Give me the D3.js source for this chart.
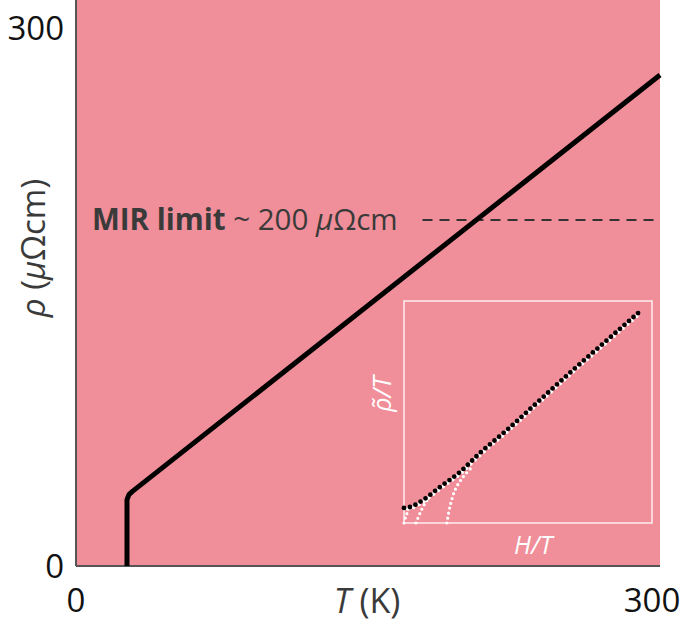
<!DOCTYPE html>
<html>
<head>
<meta charset="utf-8">
<script src="https://cdn.jsdelivr.net/npm/d3@7"></script>
<style>
  body { margin: 0; background: #fff; }
  text { font-family: "Open Sans", "Noto Sans", sans-serif; }
</style>
</head>
<body>
<div id="plot"></div>
<script>
// main resistivity curve (T in K, rho in µΩcm)
let mainT = [26.2, 26.2, 27.2, 29, 300];
let mainRho = [0, 37, 39.8, 41.6, 273.8];

// MIR limit dashed line
let mirT = [178, 297.5];
let mirRho = 193;

let xTicks = [0, 300];
let yTicks = [0, 300];

// inset (arbitrary units 0..1)
let insetH = [0, 0.024, 0.077, 0.145, 0.226, 0.306, 0.415, 0.548, 0.681, 0.819, 0.944];
let insetR = [0.068, 0.072, 0.104, 0.162, 0.230, 0.315, 0.419, 0.554, 0.689, 0.824, 0.946];
let whiteCurves = [
    { h: [0, 0.008, 0.024], r: [0, 0.032, 0.072] },
    { h: [0.048, 0.065, 0.085, 0.105], r: [0, 0.045, 0.09, 0.117] },
    { h: [0.173, 0.185, 0.206, 0.238, 0.274], r: [0, 0.072, 0.149, 0.207, 0.252] }
];

let svgWidth = 683;
let svgHeight = 628;

let margin = { top: 0, right: 23, bottom: 62, left: 76 };
let chartWidth = svgWidth - margin.left - margin.right;
let chartHeight = svgHeight - margin.top - margin.bottom;

let $svg = d3.select('#plot')
    .append('svg')
    .attr('width', svgWidth)
    .attr('height', svgHeight);

let chartGroup = $svg.append('g')
    .attr('transform', `translate(${margin.left}, ${margin.top})`);

let xScale = d3.scaleLinear().domain([0, 300]).range([0, chartWidth]);
let yScale = d3.scaleLinear().domain([0, 300]).range([chartHeight, 28]);

// pink background
chartGroup.append('rect')
    .attr('x', 0)
    .attr('y', 0)
    .attr('width', chartWidth)
    .attr('height', chartHeight)
    .attr('fill', '#f08e99');

// axes lines
chartGroup.append('line')
    .attr('x1', 0).attr('x2', 0)
    .attr('y1', 0).attr('y2', chartHeight)
    .attr('stroke', '#555').attr('stroke-width', 2);
chartGroup.append('line')
    .attr('x1', 0).attr('x2', chartWidth)
    .attr('y1', chartHeight).attr('y2', chartHeight)
    .attr('stroke', '#555').attr('stroke-width', 2);

// tick labels
chartGroup.selectAll('.xtick')
    .data(xTicks)
    .enter()
    .append('text')
    .attr('x', d => xScale(d) + (d === 300 ? -8 : 0))
    .attr('y', chartHeight + 46)
    .attr('text-anchor', 'middle')
    .attr('font-size', 33)
    .attr('fill', '#111')
    .text(d => d);

chartGroup.selectAll('.ytick')
    .data(yTicks)
    .enter()
    .append('text')
    .attr('x', -12)
    .attr('y', d => yScale(d) + 12)
    .attr('text-anchor', 'end')
    .attr('font-size', 33)
    .attr('fill', '#111')
    .text(d => d);

// axis titles
let xTitle = chartGroup.append('text')
    .attr('x', chartWidth / 2 - 1)
    .attr('y', chartHeight + 47)
    .attr('text-anchor', 'middle')
    .attr('font-size', 34)
    .attr('fill', '#3a3a3a');
xTitle.append('tspan').attr('font-style', 'italic').text('T');
xTitle.append('tspan').text(' (K)');

let yTitle = $svg.append('text')
    .attr('transform', `translate(45, 248) rotate(-90)`)
    .attr('text-anchor', 'middle')
    .attr('font-size', 33)
    .attr('fill', '#3a3a3a');
yTitle.append('tspan').attr('font-style', 'italic').text('ρ');
yTitle.append('tspan').text(' (');
yTitle.append('tspan').attr('font-style', 'italic').text('μ');
yTitle.append('tspan').text('Ωcm)');

// MIR limit
chartGroup.append('line')
    .attr('x1', xScale(mirT[0])).attr('x2', xScale(mirT[1]))
    .attr('y1', yScale(mirRho)).attr('y2', yScale(mirRho))
    .attr('stroke', '#333')
    .attr('stroke-width', 2)
    .attr('stroke-dasharray', '10,7');

let mirText = chartGroup.append('text')
    .attr('x', 16)
    .attr('y', yScale(mirRho) + 10)
    .attr('font-size', 29.5)
    .attr('fill', '#3a3a3a');
mirText.append('tspan').attr('font-weight', 'bold').text('MIR limit');
mirText.append('tspan').text(' ~ 200 ');
mirText.append('tspan').attr('font-style', 'italic').text('μ');
mirText.append('tspan').text('Ωcm');

// main curve
let mainLine = d3.line()
    .x(d => xScale(d[0]))
    .y(d => yScale(d[1]));

chartGroup.append('path')
    .datum(mainT.map((t, i) => [t, mainRho[i]]))
    .attr('d', mainLine)
    .attr('fill', 'none')
    .attr('stroke', '#000')
    .attr('stroke-width', 5)
    .attr('stroke-linejoin', 'round');

// inset
let insetX = d3.scaleLinear().domain([0, 1]).range([404, 652]);
let insetY = d3.scaleLinear().domain([0, 1]).range([523, 301]);

$svg.append('rect')
    .attr('x', insetX(0))
    .attr('y', insetY(1))
    .attr('width', insetX(1) - insetX(0))
    .attr('height', insetY(0) - insetY(1))
    .attr('fill', 'none')
    .attr('stroke', '#fff')
    .attr('stroke-width', 1.5)
    .attr('opacity', 0.85);

let insetLine = d3.line()
    .x(d => insetX(d[0]))
    .y(d => insetY(d[1]))
    .curve(d3.curveMonotoneX);

whiteCurves.forEach(c => {
    $svg.append('path')
        .datum(c.h.map((h, i) => [h, c.r[i]]))
        .attr('d', d3.line().x(d => insetX(d[0])).y(d => insetY(d[1])).curve(d3.curveCatmullRom))
        .attr('fill', 'none')
        .attr('stroke', '#fff')
        .attr('stroke-width', 3.2)
        .attr('stroke-linecap', 'round')
        .attr('stroke-dasharray', '0,5');
});

let insetData = insetH.map((h, i) => [h, insetR[i]]);

$svg.append('path')
    .datum(insetData)
    .attr('d', insetLine)
    .attr('transform', 'translate(0.8,1.2)')
    .attr('fill', 'none')
    .attr('stroke', '#fff')
    .attr('stroke-width', 4)
    .attr('stroke-linecap', 'round')
    .attr('stroke-dasharray', '0,6')
    .attr('stroke-dashoffset', 3);

$svg.append('path')
    .datum(insetData)
    .attr('d', insetLine)
    .attr('fill', 'none')
    .attr('stroke', '#000')
    .attr('stroke-width', 4.8)
    .attr('stroke-linecap', 'round')
    .attr('stroke-dasharray', '0,6');

$svg.append('text')
    .attr('x', 533)
    .attr('y', 554)
    .attr('text-anchor', 'middle')
    .attr('font-size', 25)
    .attr('font-style', 'italic')
    .attr('fill', '#fff')
    .text('H/T');

$svg.append('text')
    .attr('transform', 'translate(391, 394) rotate(-90)')
    .attr('text-anchor', 'middle')
    .attr('font-size', 25)
    .attr('font-style', 'italic')
    .attr('fill', '#fff')
    .text('ρ̃/T');
</script>
</body>
</html>
